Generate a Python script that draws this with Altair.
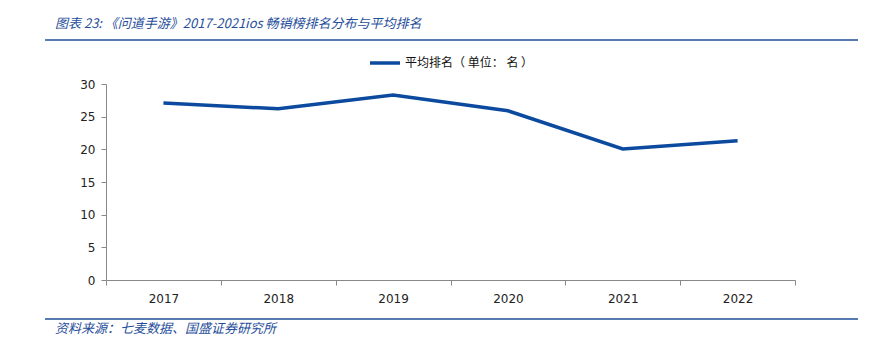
import altair as alt
import pandas as pd

years = ["2017", "2018", "2019", "2020", "2021", "2022"]
avg_rank = [27.1, 26.2, 28.3, 25.9, 20.05, 21.3]
series_name = "平均排名（ 单位： 名 ）"
title_text = ["图表 23:  《问道手游》2017-2021ios 畅销榜排名分布与平均排名"]
source_text = ["资料来源：七麦数据、国盛证券研究所"]
y_ticks = [0, 5, 10, 15, 20, 25, 30]

BLUE = "#0B4A9E"
HEAD = "#1F4E9A"

df = pd.DataFrame({"year": years, "rank": avg_rank, "series": [series_name] * len(years)})

line = alt.Chart(df).mark_line(strokeWidth=3.5, color=BLUE).encode(
    x=alt.X("year:O", bandPosition=0.5,
            scale=alt.Scale(type="band", paddingInner=0, paddingOuter=0),
            axis=alt.Axis(title=None, labelAngle=0, tickBand="extent", tickSize=5,
                          labelPadding=8, domainColor="#888888", tickColor="#888888",
                          labelColor="#222222", labelFont="DejaVu Sans", labelFontSize=12)),
    y=alt.Y("rank:Q", scale=alt.Scale(domain=[0, 30], nice=False),
            axis=alt.Axis(title=None, values=y_ticks, grid=False, tickSize=5,
                          labelPadding=6, domainColor="#888888", tickColor="#888888",
                          labelColor="#222222", labelFont="DejaVu Sans", labelFontSize=12)),
    color=alt.Color("series:N", scale=alt.Scale(range=[BLUE]),
                    legend=alt.Legend(title=None, orient="none", legendX=262, legendY=-38,
                                      symbolType="stroke", symbolSize=900, symbolStrokeWidth=3.5,
                                      labelFont="Noto Sans CJK SC", labelFontSize=12,
                                      labelColor="#111111", labelOffset=3)),
)

title = alt.Chart(pd.DataFrame({"t": title_text})).mark_text(
    align="left", baseline="middle", font="Noto Sans CJK SC", fontSize=13,
    fontStyle="italic", color=HEAD
).encode(text="t:N", x=alt.value(-51), y=alt.value(-60))

source = alt.Chart(pd.DataFrame({"t": source_text})).mark_text(
    align="left", baseline="middle", font="Noto Sans CJK SC", fontSize=13,
    fontStyle="italic", color=HEAD
).encode(text="t:N", x=alt.value(-51), y=alt.value(245))

top_rule = alt.Chart(pd.DataFrame({"a": [0]})).mark_rule(color=HEAD, strokeWidth=1.5).encode(
    x=alt.value(-61), x2=alt.value(752), y=alt.value(-44))
bottom_rule = alt.Chart(pd.DataFrame({"a": [0]})).mark_rule(color=HEAD, strokeWidth=1.5).encode(
    x=alt.value(-61), x2=alt.value(752), y=alt.value(235))

chart = alt.layer(line, title, source, top_rule, bottom_rule).properties(
    width=689, height=196,
    autosize=alt.AutoSizeParams(type="none"),
    padding={"left": 106, "top": 84, "right": 90, "bottom": 72},
    background="white",
).configure_view(stroke=None)

chart.save("out.html", embed_options={"renderer": "svg", "actions": False})
